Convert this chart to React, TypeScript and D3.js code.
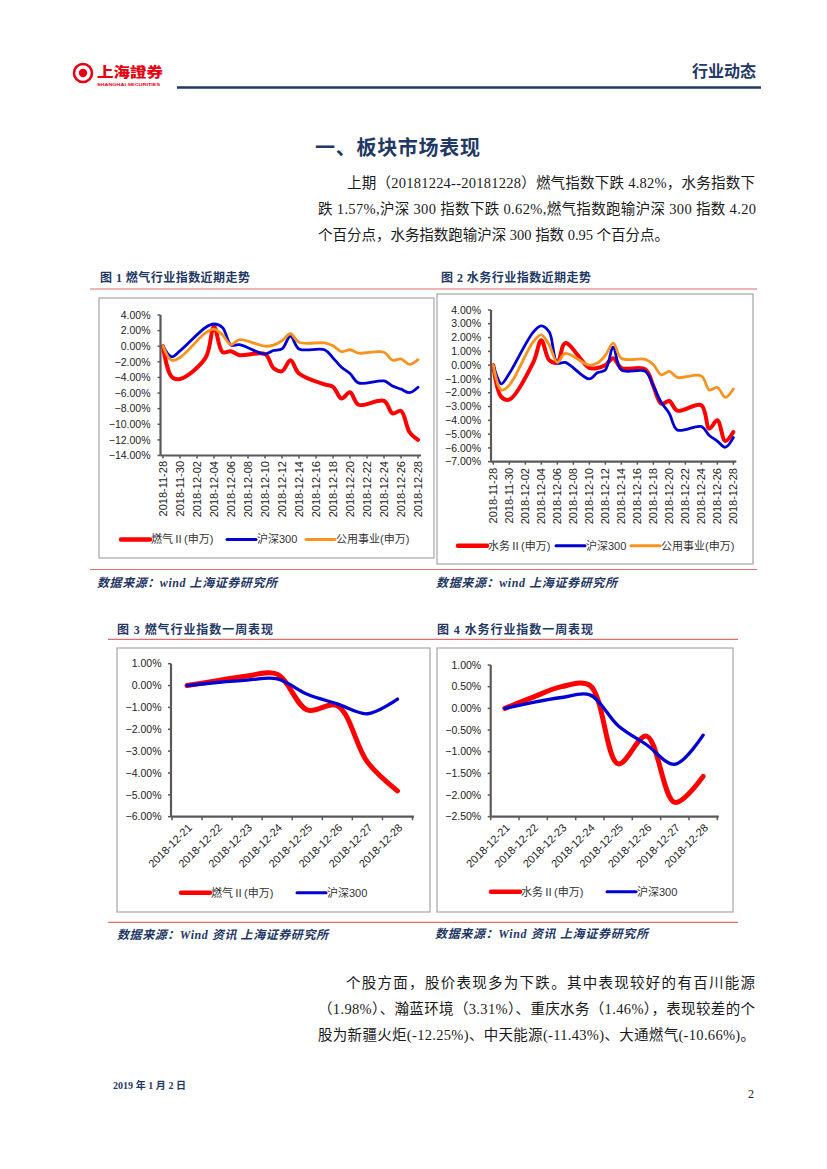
import React from 'react';
import * as d3 from 'd3';

// ---- data ----
const trendDates = [
  '2018-11-28', '2018-11-29', '2018-11-30', '2018-12-03', '2018-12-04', '2018-12-05',
  '2018-12-06', '2018-12-07', '2018-12-10', '2018-12-11', '2018-12-12', '2018-12-13',
  '2018-12-14', '2018-12-17', '2018-12-18', '2018-12-19', '2018-12-20', '2018-12-21',
  '2018-12-24', '2018-12-25', '2018-12-26', '2018-12-27', '2018-12-28',
];
const trendTickLabels = [
  '2018-11-28', '2018-11-30', '2018-12-02', '2018-12-04', '2018-12-06', '2018-12-08',
  '2018-12-10', '2018-12-12', '2018-12-14', '2018-12-16', '2018-12-18', '2018-12-20',
  '2018-12-22', '2018-12-24', '2018-12-26', '2018-12-28',
];
const gasTrend = [0, -3.9, -4.2, -1.5, 2.5, -0.75, -0.65, -1.15, -1.0, -2.8, -3.2, -1.8, -3.5, -4.9, -5.2, -6.7, -5.9, -7.5, -7.0, -8.6, -8.3, -11.0, -12.0];
const waterTrend = [0, -2.3, -2.5, 0.2, 1.8, 0.35, 0.2, 1.6, -0.2, -0.2, 0.0, 0.5, -0.2, -0.3, -1.5, -2.8, -2.6, -3.3, -2.9, -4.6, -4.0, -5.5, -4.85];
const hs300Trend = [0, -1.35, -0.6, 2.4, 2.85, 2.4, 0.15, 0.2, -1.0, -0.55, -0.35, 1.3, -0.35, -0.45, -1.5, -2.7, -3.5, -4.7, -4.45, -5.1, -5.5, -5.95, -5.25];
const utilityTrend = [0, -1.8, -1.45, 1.7, 2.2, 1.45, 0.2, 0.85, 0.0, 0.15, 0.7, 1.6, 0.5, 0.42, 0.05, -0.7, -0.45, -0.88, -0.78, -1.8, -1.62, -2.33, -1.72];
const gasTrendTicks = [4, 2, 0, -2, -4, -6, -8, -10, -12, -14];
const waterTrendTicks = [4, 3, 2, 1, 0, -1, -2, -3, -4, -5, -6, -7];

const weekDates = ['2018-12-21', '2018-12-22', '2018-12-23', '2018-12-24', '2018-12-25', '2018-12-26', '2018-12-27', '2018-12-28'];
const gasWeek = [0, 0.22, 0.44, 0.52, -1.12, -0.92, -3.5, -4.82];
const waterWeek = [0, 0.26, 0.5, 0.53, -1.28, -0.64, -2.17, -1.57];
const hs300Week = [0, 0.14, 0.25, 0.31, -0.4, -0.84, -1.29, -0.62];
const gasWeekTicks = [1, 0, -1, -2, -3, -4, -5, -6];
const waterWeekTicks = [1, 0.5, 0, -0.5, -1, -1.5, -2, -2.5];

const RED = '#ff0000';
const BLUE = '#0000d2';
const ORANGE = '#f7931e';
const NAVY = '#1f3864';
const AXIS = '#595959';
const SANS = "'Liberation Sans', Arial, 'Noto Sans CJK SC', sans-serif";
const SERIF = "'Liberation Serif', 'Times New Roman', 'Noto Sans CJK SC', serif";

const parse = d3.timeParse('%Y-%m-%d');
const pct = (v: number) => d3.format('.2f')(v) + '%';

interface Series { name: string; values: number[]; color: string; width: number; legendWidth: number }

interface Box { x: number; y: number; w: number; h: number }

const Legend: React.FC<{ series: Series[]; y: number; starts: number[] }> = ({ series, y, starts }) => (
  <g>
    {series.map((s, i) => (
      <g key={s.name}>
        <line x1={starts[i]} x2={starts[i] + 29} y1={y} y2={y} stroke={s.color} strokeWidth={s.legendWidth} strokeLinecap="round" />
        <text x={starts[i] + 30} y={y} dy="0.36em" fontFamily={SANS} fontSize={11} fill="#333">{s.name}</text>
      </g>
    ))}
  </g>
);

interface TrendProps {
  box: Box; axisX: number; xRange: [number, number]; yRange: [number, number];
  ticks: number[]; series: Series[]; labelTop: number; legendY: number; legendStarts: number[];
}

const TrendChart: React.FC<TrendProps> = ({ box, axisX, xRange, yRange, ticks, series, labelTop, legendY, legendStarts }) => {
  const x = d3.scaleTime()
    .domain([parse(trendDates[0])!, parse(trendDates[trendDates.length - 1])!])
    .range(xRange);
  const y = d3.scaleLinear().domain([d3.min(ticks)!, d3.max(ticks)!]).range(yRange);
  const line = d3.line<number>()
    .x((_, i) => x(parse(trendDates[i])!))
    .y((d) => y(d))
    .curve(d3.curveCatmullRom.alpha(0.5));
  const bottom = yRange[0];
  return (
    <g>
      <rect x={box.x} y={box.y} width={box.w} height={box.h} fill="#fff" stroke="#a6a6a6" strokeWidth={1.2} />
      {ticks.map((t) => (
        <g key={t}>
          <line x1={axisX - 3} x2={axisX} y1={y(t)} y2={y(t)} stroke={AXIS} strokeWidth={1.5} />
          <text x={axisX - 10} y={y(t)} dy="0.35em" textAnchor="end" fontFamily={SANS} fontSize={10.5} fill="#222">{pct(t)}</text>
        </g>
      ))}
      {trendTickLabels.map((d) => {
        const px = x(parse(d)!);
        return (
          <g key={d}>
            <line x1={px} x2={px} y1={bottom} y2={bottom + 3} stroke={AXIS} strokeWidth={1.5} />
            <text transform={`translate(${px},${labelTop}) rotate(-90)`} dy="0.35em" textAnchor="end" fontFamily={SANS} fontSize={11} fill="#222">{d}</text>
          </g>
        );
      })}
      <line x1={axisX} x2={axisX} y1={yRange[1]} y2={bottom} stroke={AXIS} strokeWidth={2.2} />
      <line x1={axisX} x2={xRange[1] + 3} y1={bottom} y2={bottom} stroke={AXIS} strokeWidth={2.2} />
      {series.map((s) => (
        <path key={s.name} d={line(s.values)!} fill="none" stroke={s.color} strokeWidth={s.width} strokeLinejoin="round" strokeLinecap="round" />
      ))}
      <Legend series={series} y={legendY} starts={legendStarts} />
    </g>
  );
};

interface WeekProps {
  box: Box; axisX: number; xRange: [number, number]; yRange: [number, number];
  ticks: number[]; series: Series[]; legendY: number; legendStarts: number[];
}

const WeekChart: React.FC<WeekProps> = ({ box, axisX, xRange, yRange, ticks, series, legendY, legendStarts }) => {
  const x = d3.scaleBand<string>().domain(weekDates).range(xRange);
  const cx = (d: string) => x(d)! + x.bandwidth() / 2;
  const y = d3.scaleLinear().domain([d3.min(ticks)!, d3.max(ticks)!]).range(yRange);
  const line = d3.line<number>()
    .x((_, i) => cx(weekDates[i]))
    .y((d) => y(d))
    .curve(d3.curveCatmullRom.alpha(0.5));
  const bottom = yRange[0];
  const bounds = [...weekDates.map((d) => x(d)!), xRange[1]];
  return (
    <g>
      <rect x={box.x} y={box.y} width={box.w} height={box.h} fill="#fff" stroke="#a6a6a6" strokeWidth={1.2} />
      {ticks.map((t) => (
        <g key={t}>
          <line x1={axisX - 3} x2={axisX} y1={y(t)} y2={y(t)} stroke={AXIS} strokeWidth={1.5} />
          <text x={axisX - 9.5} y={y(t)} dy="0.35em" textAnchor="end" fontFamily={SANS} fontSize={10.5} fill="#222">{pct(t)}</text>
        </g>
      ))}
      {bounds.map((b, i) => (
        <line key={i} x1={b} x2={b} y1={bottom} y2={bottom + 3.5} stroke={AXIS} strokeWidth={1.5} />
      ))}
      {weekDates.map((d) => (
        <text key={d} transform={`translate(${cx(d) + 3},${bottom + 9}) rotate(-45)`} dy="0.35em" textAnchor="end" fontFamily={SANS} fontSize={11} fill="#222">{d}</text>
      ))}
      <line x1={axisX} x2={axisX} y1={yRange[1]} y2={bottom} stroke={AXIS} strokeWidth={2.2} />
      <line x1={axisX} x2={xRange[1] + 1.5} y1={bottom} y2={bottom} stroke={AXIS} strokeWidth={2.2} />
      {series.map((s) => (
        <path key={s.name} d={line(s.values)!} fill="none" stroke={s.color} strokeWidth={s.width} strokeLinejoin="round" strokeLinecap="round" />
      ))}
      <Legend series={series} y={legendY} starts={legendStarts} />
    </g>
  );
};

const Body: React.FC<{ lines: { text: string; x: number; w: number }[]; top: number }> = ({ lines, top }) => (
  <g>
    {lines.map((l, i) => (
      <text key={i} x={l.x} y={top + i * 26} textLength={l.w} lengthAdjust="spacing" fontFamily={SERIF} fontSize={14.5} fill="#1a1a1a">{l.text}</text>
    ))}
  </g>
);

const FigTitle: React.FC<{ x: number; y: number; w: number; text: string }> = ({ x, y, w, text }) => (
  <text x={x} y={y} dy="0.35em" textLength={w} lengthAdjust="spacing" fontFamily={SERIF} fontWeight="bold" fontSize={12} fill={NAVY}>{text}</text>
);

const Source: React.FC<{ x: number; y: number; w: number; text: string }> = ({ x, y, w, text }) => (
  <text x={x} y={y} dy="0.35em" textLength={w} lengthAdjust="spacing" fontFamily={SERIF} fontWeight="bold" fontStyle="italic" fontSize={12} fill={NAVY}>{text}</text>
);

const App: React.FC = () => {
  const gasSeries: Series[] = [
    { name: '燃气Ⅱ(申万)', values: gasTrend, color: RED, width: 4, legendWidth: 4.5 },
    { name: '沪深300', values: hs300Trend, color: BLUE, width: 2.8, legendWidth: 3 },
    { name: '公用事业(申万)', values: utilityTrend, color: ORANGE, width: 2.8, legendWidth: 3 },
  ];
  const waterSeries: Series[] = [
    { name: '水务Ⅱ(申万)', values: waterTrend, color: RED, width: 4, legendWidth: 4.5 },
    { name: '沪深300', values: hs300Trend, color: BLUE, width: 2.8, legendWidth: 3 },
    { name: '公用事业(申万)', values: utilityTrend, color: ORANGE, width: 2.8, legendWidth: 3 },
  ];
  const gasWeekSeries: Series[] = [
    { name: '燃气Ⅱ(申万)', values: gasWeek, color: RED, width: 5, legendWidth: 4.5 },
    { name: '沪深300', values: hs300Week, color: BLUE, width: 3.3, legendWidth: 3 },
  ];
  const waterWeekSeries: Series[] = [
    { name: '水务Ⅱ(申万)', values: waterWeek, color: RED, width: 5, legendWidth: 4.5 },
    { name: '沪深300', values: hs300Week, color: BLUE, width: 3.3, legendWidth: 3 },
  ];

  return (
    <svg width={827} height={1169} style={{ position: 'absolute', left: 0, top: 0, background: '#fff' }}>
      {/* header */}
      <g>
        <circle cx={83} cy={73} r={9} fill="none" stroke="#e60012" strokeWidth={2.6} />
        <circle cx={83} cy={73} r={4.2} fill="#e60012" />
        <path d="M77,70 Q83,64 89,70" fill="none" stroke="#fff" strokeWidth={1.2} />
        <text x={97} y={77} textLength={66} lengthAdjust="spacingAndGlyphs" fontFamily="'Noto Sans CJK TC', 'Noto Sans CJK SC', sans-serif" fontWeight="900" fontSize={14} fill="#e60012">上海證券</text>
        <text x={97} y={85.5} textLength={63} lengthAdjust="spacingAndGlyphs" fontFamily={SANS} fontWeight="bold" fontSize={3.6} fill="#e60012">SHANGHAI SECURITIES</text>
        <text x={756} y={77} textAnchor="end" fontFamily="'Noto Sans CJK SC', sans-serif" fontWeight="bold" fontSize={16} fill={NAVY}>行业动态</text>
        <line x1={177} x2={761} y1={87.5} y2={87.5} stroke={NAVY} strokeWidth={2.5} />
      </g>

      <text x={315} y={155} textLength={165} lengthAdjust="spacing" fontFamily="'Noto Sans CJK SC', sans-serif" fontWeight="bold" fontSize={20} fill={NAVY}>一、板块市场表现</text>

      <Body top={188} lines={[
        { text: '上期（20181224--20181228）燃气指数下跌 4.82%，水务指数下', x: 347, w: 408 },
        { text: '跌 1.57%,沪深 300 指数下跌 0.62%,燃气指数跑输沪深 300 指数 4.20', x: 318, w: 438 },
        { text: '个百分点，水务指数跑输沪深 300 指数 0.95 个百分点。', x: 318, w: 351 },
      ]} />

      {/* figures 1 and 2 */}
      <FigTitle x={100} y={278} w={150} text="图 1 燃气行业指数近期走势" />
      <FigTitle x={441} y={278} w={150} text="图 2 水务行业指数近期走势" />
      <line x1={90} x2={757} y1={289} y2={289} stroke="#e06c6c" strokeWidth={1.2} />
      <TrendChart box={{ x: 99, y: 298, w: 335, h: 260 }} axisX={160.5} xRange={[163, 418]} yRange={[455.5, 315]}
        ticks={gasTrendTicks} series={gasSeries} labelTop={461} legendY={539.5} legendStarts={[121, 227, 306]} />
      <TrendChart box={{ x: 437, y: 294, w: 316, h: 270 }} axisX={491} xRange={[493.3, 733.3]} yRange={[461.7, 310]}
        ticks={waterTrendTicks} series={waterSeries} labelTop={468} legendY={545.7} legendStarts={[458, 556, 631]} />
      <line x1={90} x2={757} y1={569.5} y2={569.5} stroke="#e06c6c" strokeWidth={1.2} />
      <Source x={97} y={582.7} w={180} text="数据来源：wind 上海证券研究所" />
      <Source x={436} y={582.7} w={181} text="数据来源：wind 上海证券研究所" />

      {/* figures 3 and 4 */}
      <FigTitle x={117} y={630} w={156} text="图  3  燃气行业指数一周表现" />
      <FigTitle x={437} y={630} w={156} text="图  4  水务行业指数一周表现" />
      <line x1={108} x2={738} y1={639.3} y2={639.3} stroke="#e06c6c" strokeWidth={1.2} />
      <WeekChart box={{ x: 117, y: 648, w: 313, h: 264 }} axisX={171} xRange={[172, 412.5]} yRange={[816.7, 663.7]}
        ticks={gasWeekTicks} series={gasWeekSeries} legendY={892.7} legendStarts={[181, 297]} />
      <WeekChart box={{ x: 437, y: 648, w: 296, h: 264 }} axisX={490.7} xRange={[490.7, 717.3]} yRange={[816.7, 665]}
        ticks={waterWeekTicks} series={waterWeekSeries} legendY={891.7} legendStarts={[491, 607]} />
      <line x1={108} x2={738} y1={922.3} y2={922.3} stroke="#e06c6c" strokeWidth={1.2} />
      <Source x={117} y={934.3} w={211} text="数据来源：Wind 资讯 上海证券研究所" />
      <Source x={435} y={934} w={213} text="数据来源：Wind 资讯 上海证券研究所" />

      <Body top={988} lines={[
        { text: '个股方面，股价表现多为下跌。其中表现较好的有百川能源', x: 346, w: 409 },
        { text: '（1.98%）、瀚蓝环境（3.31%）、重庆水务（1.46%），表现较差的个', x: 318, w: 437 },
        { text: '股为新疆火炬(-12.25%)、中天能源(-11.43%)、大通燃气(-10.66%)。', x: 318, w: 437 },
      ]} />

      {/* footer */}
      <text x={113} y={1085} dy="0.35em" textLength={73} lengthAdjust="spacing" fontFamily={SERIF} fontWeight="bold" fontSize={10} fill={NAVY}>2019 年 1 月 2 日</text>
      <text x={754} y={1094} dy="0.35em" textAnchor="end" fontFamily={SERIF} fontSize={12} fill="#222">2</text>
    </svg>
  );
};

export default App;
